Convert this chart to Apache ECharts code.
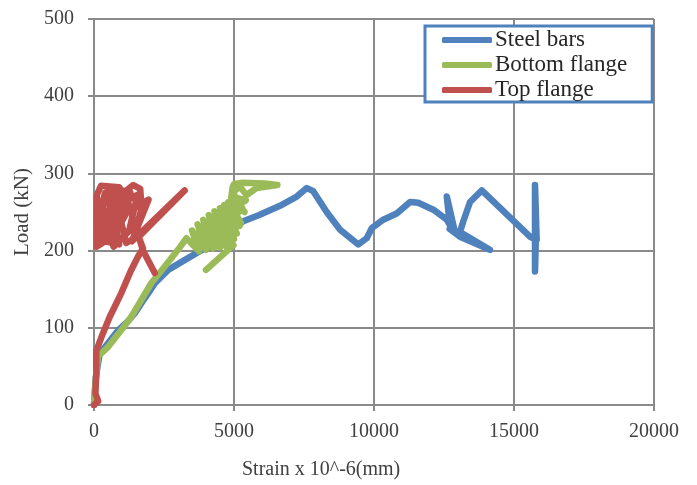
<!DOCTYPE html>
<html>
<head>
<meta charset="utf-8">
<script src="https://cdn.jsdelivr.net/npm/echarts@6/dist/echarts.min.js"></script>
<style>
  html, body { margin: 0; padding: 0; background: #ffffff; }
  #chart { width: 697px; height: 485px; }
</style>
</head>
<body>
<div id="chart"></div>
<script>
// Load–strain readings: [strain (x10^-6), load (kN)]
const seriesNames = ['Steel bars', 'Bottom flange', 'Top flange'];

const steelBars = [
  [0, 0], [60, 35], [200, 66], [500, 80], [870, 97], [1200, 108], [1460, 119],
  [1750, 135], [1940, 145], [2180, 158], [2650, 175], [3250, 188], [3960, 203],
  [4500, 212], [4980, 228], [5330, 238], [5900, 246], [6640, 258], [7240, 270],
  [7600, 281], [7830, 277], [8310, 250], [8790, 227], [9440, 208], [9740, 216],
  [9920, 229], [10330, 240], [10810, 248], [11290, 263], [11580, 262], [12120, 253],
  [12600, 240], [12710, 233], [12600, 270], [12890, 224], [12700, 228], [13070, 218],
  [14140, 201], [13070, 224], [13190, 238], [13430, 263], [13850, 278], [15570, 218],
  [15810, 214], [15750, 285], [15750, 173], [15780, 214]
];

const bottomFlange = [
  [0, 0], [60, 30], [140, 63], [500, 75], [975, 97], [1330, 114], [1690, 136],
  [2050, 158], [2520, 179], [3000, 201], [3300, 216], [3750, 199], [3500, 226],
  [4000, 201], [3700, 234], [4250, 203], [3900, 240], [4500, 204], [4100, 246],
  [4750, 205], [4300, 251], [4950, 208], [4500, 255], [5100, 222], [4650, 259],
  [5250, 236], [4800, 263], [5380, 250], [4950, 270], [5420, 265], [4700, 250],
  [5200, 232], [4400, 240], [5000, 215], [4150, 232], [4700, 206], [3900, 222],
  [4350, 205], [3650, 212], [4000, 226], [4600, 248], [5100, 250], [4900, 268],
  [4950, 282], [5000, 286], [5300, 288], [6100, 287], [6550, 285], [5800, 281],
  [5450, 272], [5200, 283], [4950, 275], [5300, 255], [4500, 225], [4980, 207],
  [4000, 175]
];

const topFlange = [
  [0, 0], [150, 5], [50, 15], [80, 40], [80, 70], [320, 93], [560, 114], [975, 145],
  [1330, 175], [1570, 192], [1750, 203], [1450, 232], [1200, 265], [900, 282],
  [250, 284], [100, 272], [90, 205], [400, 212], [900, 208], [700, 245], [400, 275],
  [200, 250], [500, 228], [900, 270], [1400, 285], [1650, 280], [1700, 255],
  [1400, 215], [1150, 210], [950, 240], [750, 275], [350, 262], [200, 230],
  [650, 215], [1100, 245], [1300, 275], [600, 282], [150, 255], [300, 215],
  [800, 230], [1000, 262], [1550, 272], [1250, 225], [700, 205], [450, 245],
  [850, 280], [1200, 250], [1950, 266], [1350, 212], [3240, 278],
  [1600, 218], [1750, 200], [2170, 171]
];

// Axis ticks
const xTicks = [0, 5000, 10000, 15000, 20000];
const yTicks = [0, 100, 200, 300, 400, 500];

const colors = ['#4F81BD', '#9BBB59', '#C0504D'];
const fontFamily = '"Liberation Serif", "DejaVu Serif", serif';
const gridColor = '#8a8a8a';
const textColor = '#404040';

const chart = echarts.init(document.getElementById('chart'), null, { renderer: 'canvas' });

function axisCommon(ticks) {
  return {
    type: 'value',
    min: ticks[0],
    max: ticks[ticks.length - 1],
    interval: ticks[1] - ticks[0],
    axisLine: { show: true, lineStyle: { color: gridColor, width: 2 } },
    axisTick: { show: true, length: 6, lineStyle: { color: gridColor, width: 2 } },
    splitLine: { show: true, lineStyle: { color: gridColor, width: 2 } },
    axisLabel: {
      color: textColor, fontFamily: fontFamily, fontSize: 20,
      formatter: (v) => String(v)
    }
  };
}

const xAxis = axisCommon(xTicks);
xAxis.axisLabel.margin = 17;

const yAxis = axisCommon(yTicks);
yAxis.axisLabel.margin = 20;
yAxis.name = 'Load (kN)';
yAxis.nameLocation = 'middle';
yAxis.nameGap = 60;
yAxis.nameTextStyle = { color: textColor, fontFamily: fontFamily, fontSize: 21 };

const datasets = [steelBars, bottomFlange, topFlange];

chart.setOption({
  animation: false,
  backgroundColor: '#ffffff',
  color: colors,
  grid: { left: 94, right: 43, top: 19, bottom: 80, containLabel: false },
  xAxis: xAxis,
  yAxis: yAxis,
  legend: {
    orient: 'vertical',
    left: 425,
    top: 26,
    padding: [2, 25, 0, 17],
    itemGap: 1,
    itemWidth: 50,
    itemHeight: 6,
    icon: 'roundRect',
    backgroundColor: '#ffffff',
    borderColor: '#4F81BD',
    borderWidth: 3,
    borderRadius: 0,
    textStyle: { color: '#262626', fontFamily: fontFamily, fontSize: 23, lineHeight: 24, padding: [0, 0, 0, -2] },
    data: seriesNames
  },
  graphic: [{
    type: 'text',
    left: 242,
    top: 460,
    style: { text: 'Strain x 10^-6(mm)', fill: textColor, font: '20px ' + fontFamily }
  }],
  series: datasets.map((d, i) => ({
    name: seriesNames[i],
    type: 'line',
    data: d,
    showSymbol: false,
    symbol: 'none',
    smooth: false,
    clip: true,
    lineStyle: { width: 6.5, color: colors[i], cap: 'round', join: 'round' },
    z: 2 + i
  }))
});
</script>
</body>
</html>
